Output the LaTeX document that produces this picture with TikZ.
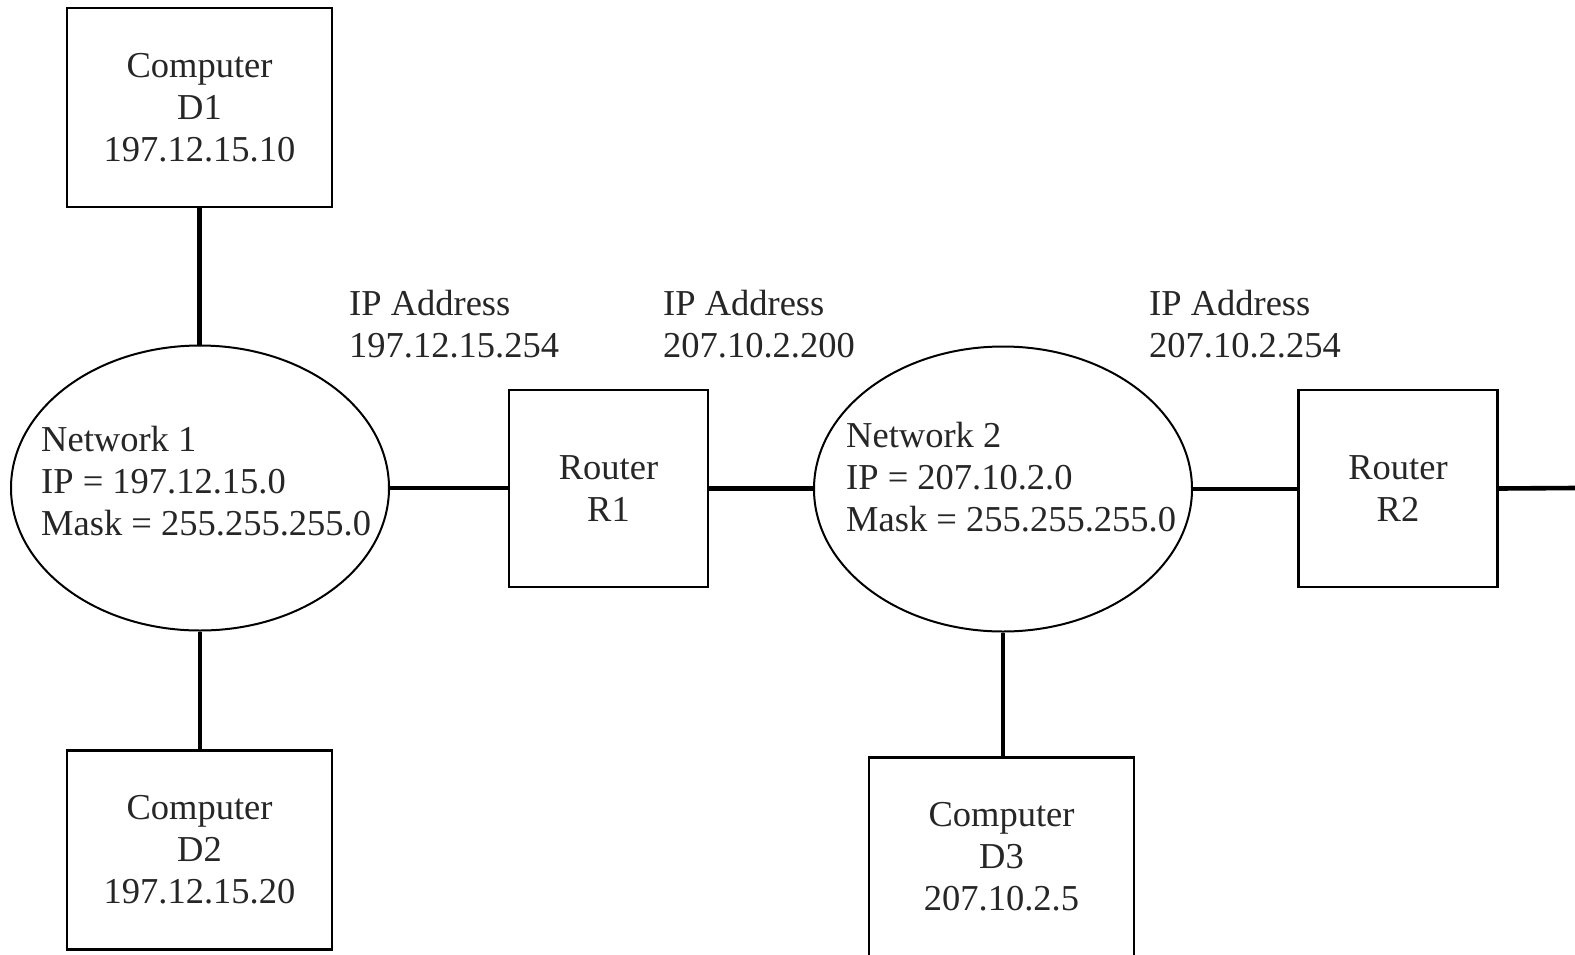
\documentclass[tikz,border=0pt]{standalone}
\usepackage{fontspec}
\setmainfont{Liberation Serif}
\usetikzlibrary{shapes.geometric}
\begin{document}
\begin{tikzpicture}[x=1pt,y=-1pt,
  txt/.style={font=\fontsize{36.5}{42}\selectfont, text=black!85},
  box/.style={txt, draw, line width=2.2pt, minimum width=265pt, minimum height=199pt, inner sep=0pt, align=center},
  router/.style={txt, draw, line width=2.2pt, minimum width=199pt, minimum height=197pt, inner sep=0pt, align=center},
  net/.style={draw, ellipse, line width=2pt, minimum width=378pt, minimum height=285pt, inner sep=0pt},
  lbl/.style={txt, align=left, inner sep=0pt, anchor=west},
  conn/.style={line width=4.6pt}
]
\useasboundingbox (0,0) rectangle (1575,954);

\node[box] (d1) at (199.5,107.5) {Computer\\D1\\197.12.15.10};
\node[box] (d2) at (199.5,850) {Computer\\D2\\197.12.15.20};
\node[box] (d3) at (1001.5,857) {Computer\\D3\\207.10.2.5};

\node[net] (n1) at (200,488) {};
\node[net] (n2) at (1003,489) {};
\node[lbl] (t1) at (41,481) {Network 1\\IP = 197.12.15.0\\Mask = 255.255.255.0};
\node[lbl] (t2) at (846,477) {Network 2\\IP = 207.10.2.0\\Mask = 255.255.255.0};

\node[router] (r1) at (608.5,488.5) {Router\\R1};
\node[router] (r2) at (1398,488.5) {Router\\R2};

\node[lbl] (a1) at (349,324) {IP Address\\197.12.15.254};
\node[lbl] (a2) at (663,324) {IP Address\\207.10.2.200};
\node[lbl] (a3) at (1149,324) {IP Address\\207.10.2.254};

\coordinate (edge) at (1575,488);

\draw[conn] (d1.south) -- (d1.south |- n1.north);
\draw[conn] (n1.south) -- (n1.south |- d2.north);
\draw[conn] (n2.south) -- (n2.south |- d3.north);
\draw[conn] (n1.east) -- (n1.east -| r1.west);
\draw[conn] (r1.east) -- (r1.east -| n2.west);
\draw[conn] (n2.east) -- (n2.east -| r2.west);
\draw[conn] (r2.east) -- (edge);
\end{tikzpicture}
\end{document}
